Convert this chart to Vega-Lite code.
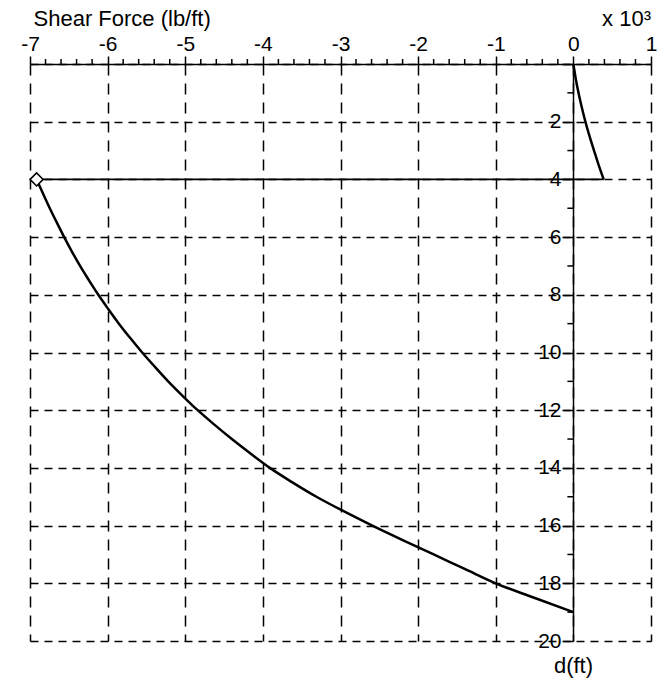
{
  "$schema": "https://vega.github.io/schema/vega-lite/v6.json",
  "width": 621,
  "height": 577,
  "autosize": "none",
  "padding": {"left": 30, "top": 64, "right": 19, "bottom": 40},
  "background": "white",
  "config": {
    "view": {"stroke": null},
    "font": "Liberation Sans"
  },
  "datasets": {
    "profile": [
      {"i": 0, "seg": "upper", "d": 0, "v": 0},
      {"i": 1, "seg": "upper", "d": 0.5, "v": 30},
      {"i": 2, "seg": "upper", "d": 1, "v": 66},
      {"i": 3, "seg": "upper", "d": 1.5, "v": 108},
      {"i": 4, "seg": "upper", "d": 2, "v": 155},
      {"i": 5, "seg": "upper", "d": 2.5, "v": 208},
      {"i": 6, "seg": "upper", "d": 3, "v": 266},
      {"i": 7, "seg": "upper", "d": 3.5, "v": 325},
      {"i": 8, "seg": "upper", "d": 4, "v": 390},
      {"i": 9, "seg": "jump", "d": 4, "v": 390},
      {"i": 10, "seg": "jump", "d": 4, "v": -6915},
      {"i": 11, "seg": "lower", "d": 4, "v": -6915},
      {"i": 12, "seg": "lower", "d": 4.5, "v": -6831},
      {"i": 13, "seg": "lower", "d": 5, "v": -6745},
      {"i": 14, "seg": "lower", "d": 5.5, "v": -6654},
      {"i": 15, "seg": "lower", "d": 6, "v": -6560},
      {"i": 16, "seg": "lower", "d": 6.5, "v": -6460},
      {"i": 17, "seg": "lower", "d": 7, "v": -6355},
      {"i": 18, "seg": "lower", "d": 7.5, "v": -6240},
      {"i": 19, "seg": "lower", "d": 8, "v": -6120},
      {"i": 20, "seg": "lower", "d": 8.5, "v": -5990},
      {"i": 21, "seg": "lower", "d": 9, "v": -5855},
      {"i": 22, "seg": "lower", "d": 9.5, "v": -5708},
      {"i": 23, "seg": "lower", "d": 10, "v": -5555},
      {"i": 24, "seg": "lower", "d": 10.5, "v": -5390},
      {"i": 25, "seg": "lower", "d": 11, "v": -5220},
      {"i": 26, "seg": "lower", "d": 11.5, "v": -5035},
      {"i": 27, "seg": "lower", "d": 12, "v": -4840},
      {"i": 28, "seg": "lower", "d": 12.5, "v": -4625},
      {"i": 29, "seg": "lower", "d": 13, "v": -4400},
      {"i": 30, "seg": "lower", "d": 13.5, "v": -4160},
      {"i": 31, "seg": "lower", "d": 14, "v": -3910},
      {"i": 32, "seg": "lower", "d": 14.5, "v": -3620},
      {"i": 33, "seg": "lower", "d": 15, "v": -3310},
      {"i": 34, "seg": "lower", "d": 15.5, "v": -2960},
      {"i": 35, "seg": "lower", "d": 16, "v": -2590},
      {"i": 36, "seg": "lower", "d": 16.5, "v": -2200},
      {"i": 37, "seg": "lower", "d": 17, "v": -1800},
      {"i": 38, "seg": "lower", "d": 17.5, "v": -1400},
      {"i": 39, "seg": "lower", "d": 18, "v": -1000},
      {"i": 40, "seg": "lower", "d": 18.5, "v": -505},
      {"i": 41, "seg": "lower", "d": 19, "v": 0}
    ],
    "marker": [
      {"d": 4, "v": -6915}
    ],
    "xMinor": [
      {"t": -6800}, {"t": -6600}, {"t": -6400}, {"t": -6200},
      {"t": -5800}, {"t": -5600}, {"t": -5400}, {"t": -5200},
      {"t": -4800}, {"t": -4600}, {"t": -4400}, {"t": -4200},
      {"t": -3800}, {"t": -3600}, {"t": -3400}, {"t": -3200},
      {"t": -2800}, {"t": -2600}, {"t": -2400}, {"t": -2200},
      {"t": -1800}, {"t": -1600}, {"t": -1400}, {"t": -1200},
      {"t": -800}, {"t": -600}, {"t": -400}, {"t": -200},
      {"t": 200}, {"t": 400}, {"t": 600}, {"t": 800}
    ],
    "yMinor": [
      {"t": 1}, {"t": 3}, {"t": 5}, {"t": 7}, {"t": 9},
      {"t": 11}, {"t": 13}, {"t": 15}, {"t": 17}, {"t": 19}
    ],
    "scaleNote": [
      {"note": "x 10³"}
    ]
  },
  "layer": [
    {
      "data": {"name": "profile"},
      "transform": [{"filter": "datum.seg != 'jump'"}],
      "mark": {"type": "line", "color": "black", "strokeWidth": 2.5, "interpolate": "monotone", "strokeJoin": "round"},
      "encoding": {
        "x": {
          "field": "v",
          "type": "quantitative",
          "scale": {"domain": [-7000, 1000], "nice": false, "zero": false},
          "axis": {
            "orient": "top",
            "values": [-7000, -6000, -5000, -4000, -3000, -2000, -1000, 0, 1000],
            "labelExpr": "'' + (datum.value / 1000)",
            "labelFont": "Liberation Sans",
            "labelFontSize": 21,
            "labelColor": "black",
            "labelPadding": 2,
            "labelFlush": false,
            "labelOverlap": false,
            "domain": true,
            "domainColor": "black",
            "domainWidth": 1.5,
            "ticks": true,
            "tickSize": 8,
            "tickColor": "black",
            "tickWidth": 1.5,
            "grid": true,
            "gridColor": "black",
            "gridOpacity": 1,
            "gridWidth": 1.5,
            "gridDash": [11, 8],
            "title": "Shear Force (lb/ft)",
            "titleFont": "Liberation Sans",
            "titleFontSize": 22,
            "titleFontWeight": "normal",
            "titleColor": "black",
            "titleX": 3,
            "titleY": -39,
            "titleAlign": "left",
            "titleAnchor": null,
            "titleBaseline": "alphabetic"
          }
        },
        "y": {
          "field": "d",
          "type": "quantitative",
          "scale": {"domain": [0, 20], "reverse": true, "nice": false, "zero": false},
          "axis": {
            "orient": "left",
            "offset": -543,
            "values": [0, 2, 4, 6, 8, 10, 12, 14, 16, 18, 20],
            "labelExpr": "datum.value == 0 ? '' : '' + datum.value",
            "labelFont": "Liberation Sans",
            "labelFontSize": 21,
            "labelColor": "black",
            "labelPadding": 2,
            "labelFlush": false,
            "labelOverlap": false,
            "domain": true,
            "domainColor": "black",
            "domainWidth": 1.5,
            "ticks": true,
            "tickSize": 10,
            "tickColor": "black",
            "tickWidth": 1.5,
            "grid": true,
            "gridColor": "black",
            "gridOpacity": 1,
            "gridWidth": 1.5,
            "gridDash": [8, 6],
            "title": "d(ft)",
            "titleFont": "Liberation Sans",
            "titleFontSize": 22,
            "titleFontWeight": "normal",
            "titleColor": "black",
            "titleAngle": 0,
            "titleX": 0,
            "titleY": 601,
            "titleAlign": "center",
            "titleAnchor": null,
            "titleBaseline": "middle"
          }
        },
        "order": {"field": "i", "type": "quantitative"},
        "detail": {"field": "seg", "type": "nominal"}
      }
    },
    {
      "data": {"name": "profile"},
      "transform": [{"filter": "datum.seg == 'jump'"}],
      "mark": {"type": "line", "color": "black", "strokeWidth": 1.8},
      "encoding": {
        "x": {"field": "v", "type": "quantitative"},
        "y": {"field": "d", "type": "quantitative"},
        "order": {"field": "i", "type": "quantitative"}
      }
    },
    {
      "data": {"name": "marker"},
      "mark": {"type": "point", "shape": "diamond", "size": 170, "filled": false, "fill": "white", "fillOpacity": 1, "stroke": "black", "strokeWidth": 1.5, "opacity": 1},
      "encoding": {
        "x": {"field": "v", "type": "quantitative"},
        "y": {"field": "d", "type": "quantitative"}
      }
    },
    {
      "data": {"name": "xMinor"},
      "mark": {"type": "tick", "orient": "vertical", "size": 5, "thickness": 1.5, "color": "black", "opacity": 1, "yOffset": -2.5},
      "encoding": {
        "x": {"field": "t", "type": "quantitative"},
        "y": {"datum": 0, "type": "quantitative"}
      }
    },
    {
      "data": {"name": "yMinor"},
      "mark": {"type": "tick", "orient": "horizontal", "size": 6, "thickness": 1.5, "color": "black", "opacity": 1, "xOffset": -3},
      "encoding": {
        "x": {"datum": 0, "type": "quantitative"},
        "y": {"field": "t", "type": "quantitative"}
      }
    },
    {
      "data": {"name": "scaleNote"},
      "mark": {"type": "text", "font": "Liberation Sans", "fontSize": 22, "color": "black", "align": "right", "baseline": "alphabetic", "dy": -38},
      "encoding": {
        "x": {"datum": 1000, "type": "quantitative"},
        "y": {"datum": 0, "type": "quantitative"},
        "text": {"field": "note", "type": "nominal"}
      }
    }
  ]
}
